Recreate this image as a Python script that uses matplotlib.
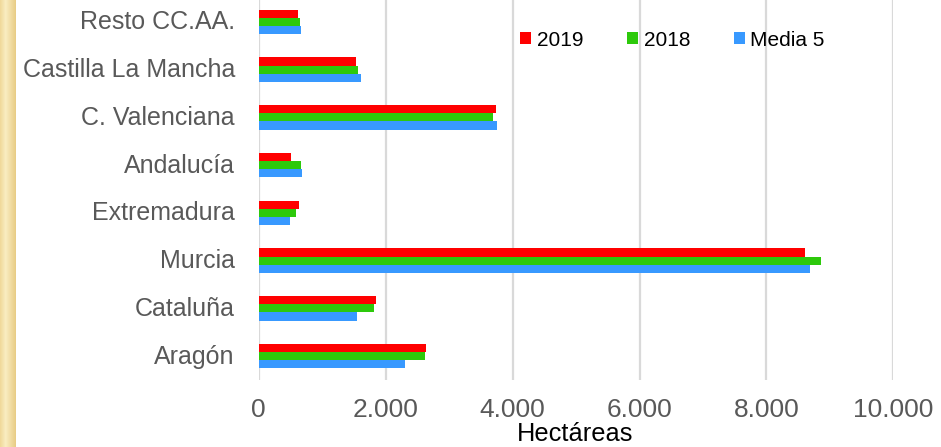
import numpy as np
import matplotlib
matplotlib.use("Agg")
import matplotlib.pyplot as plt
import matplotlib.transforms as mtransforms
from matplotlib.patches import Patch
from matplotlib.ticker import FuncFormatter

categories = ["Resto CC.AA.", "Castilla La Mancha", "C. Valenciana", "Andalucía",
              "Extremadura", "Murcia", "Cataluña", "Aragón"]
v2019 = [627, 1540, 3745, 507, 643, 8600, 1853, 2643]
v2018 = [649, 1572, 3693, 669, 595, 8866, 1820, 2617]
media5 = [665, 1609, 3761, 690, 491, 8691, 1556, 2302]
series_names = ["2019", "2018", "Media 5"]
colors = ["#FF0000", "#2DC90B", "#3899FF"]
xticks = [0, 2000, 4000, 6000, 8000, 10000]

W, H = 941, 447
fig = plt.figure(figsize=(W / 100, H / 100), dpi=100)
fig.patch.set_facecolor("white")

# golden strip on the left
sax = fig.add_axes([0, 0, 15 / W, 1])
xs = np.linspace(0, 1, 30)
c_edge = np.array([0.94, 0.85, 0.60])
c_mid = np.array([0.98, 0.93, 0.76])
c_right = np.array([0.91, 0.80, 0.52])
grad = []
for t in xs:
    if t < 0.35:
        c = c_edge + (c_mid - c_edge) * (t / 0.35)
    else:
        c = c_mid + (c_right - c_mid) * ((t - 0.35) / 0.65)
    grad.append(c)
grad = np.array(grad)[None, :, :]
sax.imshow(grad, aspect="auto", extent=[0, 1, 0, 1])
sax.axis("off")

ax = fig.add_axes([258.5 / W, (H - 380) / H, 635 / W, 382 / H])
n = len(categories)
y = np.arange(n)
bh = 0.172
for i, (vals, col, name) in enumerate(zip([v2019, v2018, media5], colors, series_names)):
    ax.barh(y + (i - 1) * bh, vals, height=bh, color=col, label=name, zorder=3,
            linewidth=0)

ax.set_ylim(n - 0.5, -0.5)
ax.set_xlim(0, 10000)
ax.set_xticks(xticks)
ax.xaxis.set_major_formatter(FuncFormatter(lambda v, p: f"{int(v):,}".replace(",", ".")))
ax.set_yticks(y)
ax.set_yticklabels(categories)
ax.grid(axis="x", color="#D9D9D9", linewidth=1.6, zorder=0)
ax.set_axisbelow(True)
for s in ax.spines.values():
    s.set_visible(False)
ax.tick_params(axis="y", length=0, pad=17, labelsize=18, labelcolor="#595959")
ax.tick_params(axis="x", length=0, pad=13, labelsize=19, labelcolor="#595959")
for lab in ax.get_yticklabels() + ax.get_xticklabels():
    lab.set_family("Liberation Sans")
offset = mtransforms.ScaledTranslation(0, 2 / 100, fig.dpi_scale_trans)
for lab in ax.get_yticklabels():
    lab.set_transform(lab.get_transform() + offset)

fig.text(575 / W, 1 / H, "Hectáreas", ha="center", va="bottom", fontsize=18.3,
         color="black", family=["Liberation Sans Narrow", "Liberation Sans"])

handles = [Patch(facecolor=c, edgecolor="none") for c in colors]
leg = fig.legend(handles, series_names, loc="center left",
                 bbox_to_anchor=(520 / W, 1 - 40 / H), ncol=3, frameon=False,
                 handlelength=0.55, handleheight=0.55, handletextpad=0.25,
                 columnspacing=2.1, borderaxespad=0, borderpad=0,
                 prop={"family": "Liberation Sans", "size": 15})

fig.savefig("out.png", dpi=100)
